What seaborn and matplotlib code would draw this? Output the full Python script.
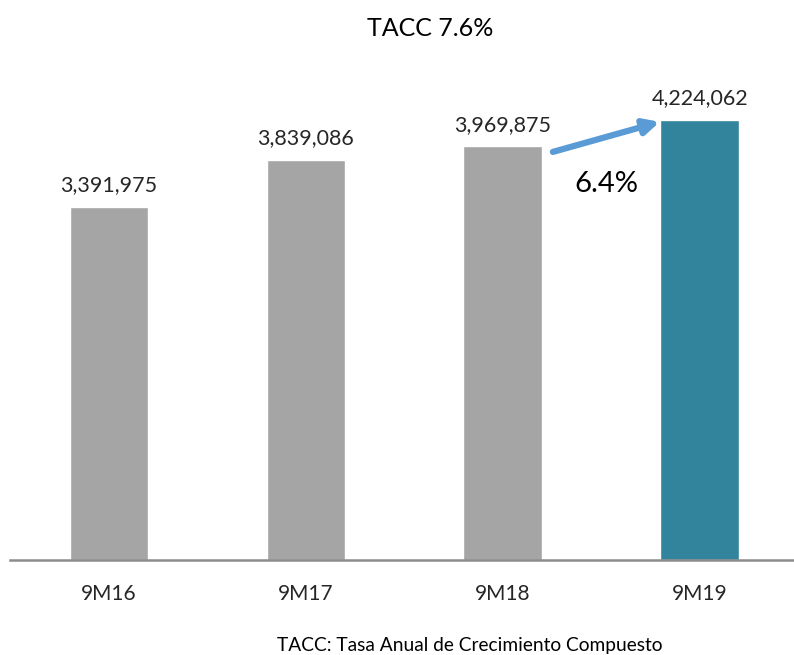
import matplotlib
matplotlib.use("Agg")
import matplotlib.pyplot as plt
import seaborn as sns
import pandas as pd

categories = ["9M16", "9M17", "9M18", "9M19"]
values = [3391975, 3839086, 3969875, 4224062]
bar_colors = ["#A5A5A5", "#A5A5A5", "#A5A5A5", "#31849B"]
title_text = "TACC 7.6%"
growth_text = "6.4%"
footnote = "TACC: Tasa Anual de Crecimiento Compuesto"

sns.set_style("white")
plt.rcParams["font.family"] = ["Lato", "DejaVu Sans"]

df = pd.DataFrame({"cat": categories, "val": values})

fig = plt.figure(figsize=(7.94, 6.55), dpi=100)
ax = fig.add_axes([0.0126, 0.145, 0.987, 0.7954])
sns.barplot(data=df, x="cat", y="val", hue="cat", palette=bar_colors,
            width=0.4, legend=False, ax=ax, saturation=1)

ax.set_xlim(-0.503, 3.477)
ax.set_ylim(0, 5000000)
for s in ["top", "right", "left"]:
    ax.spines[s].set_visible(False)
ax.spines["bottom"].set_color("#8C8C8C")
ax.spines["bottom"].set_linewidth(1.8)
ax.set_yticks([])
ax.set_xlabel("")
ax.set_ylabel("")
ax.tick_params(axis="x", length=0, labelsize=15, pad=17, colors="#262626")

for i, v in enumerate(values):
    ax.text(i, v + 110000, f"{v:,}", ha="center", va="bottom",
            fontsize=15.5, color="#262626")

ax.annotate("", xy=(2.797, 4204700), xytext=(2.254, 3916700),
            arrowprops=dict(arrowstyle="-|>,head_length=0.9,head_width=0.45",
                            color="#5B9BD5", lw=4.5, shrinkA=0, shrinkB=0))
ax.text(2.525, 3610000, growth_text, ha="center", va="center",
        fontsize=21, color="#000000")

fig.text(0.542, 0.957, title_text, ha="center", va="center",
         fontsize=18, color="#000000")
fig.text(0.592, 0.015, footnote, ha="center", va="center",
         fontsize=13.8, color="#000000")

fig.savefig("out.png", dpi=100)
